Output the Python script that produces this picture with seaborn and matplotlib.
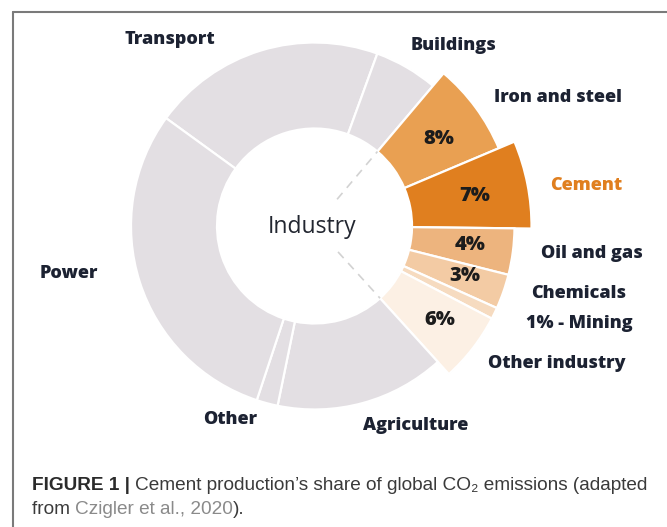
import numpy as np
import pandas as pd
import matplotlib
matplotlib.use("Agg")
import matplotlib.pyplot as plt
import seaborn as sns

# ---------------- data ----------------
sectors = ["Transport", "Buildings", "Iron and steel", "Cement", "Oil and gas",
           "Chemicals", "Mining", "Other industry", "Agriculture", "Other", "Power"]
shares = [22, 6, 8, 7, 4, 3, 1, 6, 16, 2, 32]
is_industry = [False, False, True, True, True, True, True, True, False, False, False]
industry_pct_labels = ["8%", "7%", "4%", "3%", "", "6%"]
sector_labels = ["Transport", "Buildings", "Iron and steel", "Cement", "Oil and gas",
                 "Chemicals", "1% - Mining", "Other industry", "Agriculture", "Other", "Power"]

df = pd.DataFrame({"sector": sectors, "share": shares, "industry": is_industry})

# ---------------- style ----------------
sns.set_theme(style="white")
plt.rcParams["font.family"] = ["Open Sans", "DejaVu Sans"]

W, H = 667, 527
fig = plt.figure(figsize=(W / 100, H / 100), dpi=100)
ax = fig.add_axes([0, 0, 1, 1])

grey = "#e3dfe3"
ind_colors = {"Iron and steel": "#e9a052", "Cement": "#e07f1f", "Oil and gas": "#edb47e",
              "Chemicals": "#f3cba4", "Mining": "#f6dbc0", "Other industry": "#fcf0e4"}
colors = [ind_colors.get(s, grey) for s in df["sector"]]

cx, cy = 314.5, H - 226
r_in, r_out, r_ind, r_cem = 97.5, 183.5, 200.0, 217.0
start = 144

wedges, _ = ax.pie(df["share"], colors=colors, startangle=start, counterclock=False,
                   radius=r_out, center=(cx, cy),
                   wedgeprops=dict(width=r_out - r_in, edgecolor="white", linewidth=1.6))
for w, s, ind in zip(wedges, df["sector"], df["industry"]):
    if ind:
        ro = r_cem if s == "Cement" else r_ind
        w.set_radius(ro)
        w.set_width(ro - r_in)

# dashed lines at the industry boundaries
cum = np.cumsum([0] + list(df["share"]))
tot = cum[-1]
ind_idx = [i for i, v in enumerate(is_industry) if v]
b1 = start - 360 * cum[ind_idx[0]] / tot
b2 = start - 360 * cum[ind_idx[-1] + 1] / tot
for b in (b1, b2):
    a = np.deg2rad(b)
    ax.plot([cx + 35 * np.cos(a), cx + r_in * np.cos(a)],
            [cy + 35 * np.sin(a), cy + r_in * np.sin(a)],
            color="#d2d2d2", lw=1.2, dashes=(5, 4), zorder=3)

ax.text(cx - 2, cy - 1, "Industry", ha="center", va="center", fontsize=16.5,
        color="#222630")

# sector labels (layout positions in pixels)
label_pos = {"Transport": (170, 40), "Buildings": (453, 46), "Iron and steel": (558, 98),
             "Cement": (586, 185), "Oil and gas": (592, 254), "Chemicals": (579, 293),
             "Mining": (579, 324), "Other industry": (557, 364), "Agriculture": (416, 426),
             "Other": (230, 419), "Power": (69, 273)}
txtc = "#1c2232"
for s, lab in zip(sectors, sector_labels):
    x, y = label_pos[s]
    c = "#e07f1f" if s == "Cement" else txtc
    ax.text(x, H - y, lab, ha="center", va="center", fontsize=13, fontweight=800,
            color=c)

pct_pos = [(439, 139), (475, 196), (470, 245), (465, 276), None, (440, 320)]
for lab, p in zip(industry_pct_labels, pct_pos):
    if p and lab:
        ax.text(p[0], H - p[1], lab, ha="center", va="center", fontsize=14.5,
                fontweight=800, color="#1c1c1c")

ax.set_xlim(0, W)
ax.set_ylim(0, H)
ax.set_aspect("equal")
ax.axis("off")

# frame lines
ax.plot([13, W], [H - 12, H - 12], color="#7a7a7a", lw=1.5, clip_on=False)
ax.plot([13, 13], [H - 12, 0], color="#7a7a7a", lw=1.5, clip_on=False)

# caption
cap_font = ["Liberation Sans", "DejaVu Sans"]
fig.canvas.draw()
rend = fig.canvas.get_renderer()

def seq_text(x, y, parts):
    for txt, kw in parts:
        t = ax.text(x, H - y, txt, ha="left", va="center", fontsize=13.7,
                    family=cap_font, **kw)
        bb = t.get_window_extent(renderer=rend)
        x = x + bb.width
    return x

seq_text(32, 486, [("FIGURE 1 | ", dict(fontweight="bold", color="#2b2b2b")),
                   ("Cement production\u2019s share of global CO\u2082 emissions (adapted",
                    dict(color="#3a3a3a"))])
seq_text(32, 510, [("from ", dict(color="#3a3a3a")),
                   ("Czigler et al., 2020", dict(color="#8a8a8a")),
                   (").", dict(color="#3a3a3a"))])

fig.savefig("out.png", dpi=100)
